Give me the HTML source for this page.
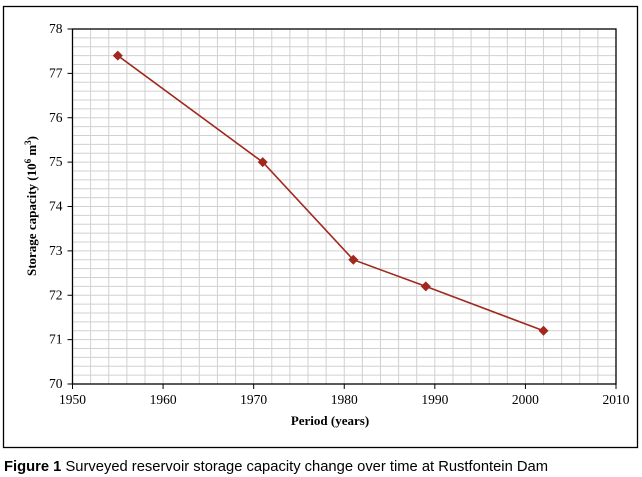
<!DOCTYPE html>
<html><head><meta charset="utf-8"><style>
body{margin:0;background:#fff;width:642px;height:477px;overflow:hidden}
svg{display:block}
</style></head><body>
<svg width="642" height="477">
<rect x="3.5" y="6.5" width="634" height="441" fill="none" stroke="#000" stroke-width="1.3"/>
<g id="grid"></g>
<g id="axes"></g>
<g id="series"></g>
<text x="330" y="425" text-anchor="middle" font-family="Liberation Serif, serif" font-weight="bold" font-size="13">Period (years)</text>
<text transform="translate(36,206) rotate(-90)" text-anchor="middle" font-family="Liberation Serif, serif" font-weight="bold" font-size="13">Storage capacity (10<tspan font-size="9" dy="-5">6</tspan><tspan dy="5"> m</tspan><tspan font-size="9" dy="-5">3</tspan><tspan dy="5">)</tspan></text>
<text x="4" y="471" font-family="Liberation Sans, sans-serif" font-size="15" textLength="544" lengthAdjust="spacingAndGlyphs"><tspan font-weight="bold">Figure 1</tspan> Surveyed reservoir storage capacity change over time at Rustfontein Dam</text>
</svg>
<script>
const years=[1955,1971,1981,1989,2002];
const capacity=[77.4,75.0,72.8,72.2,71.2];
const xTicks=[1950,1960,1970,1980,1990,2000,2010];
const yTicks=[70,71,72,73,74,75,76,77,78];
const X0=72.5,X1=616,Y0=384,Y1=29;
const xs=v=>X0+(v-1950)/60*(X1-X0);
const ys=v=>Y0-(v-70)/8*(Y0-Y1);
const NS='http://www.w3.org/2000/svg';
function mk(t,a,p){const e=document.createElementNS(NS,t);for(const k in a)e.setAttribute(k,a[k]);p.appendChild(e);return e;}
const g=document.getElementById('grid'),ax=document.getElementById('axes'),s=document.getElementById('series');
for(let y=1950;y<=2010;y+=2){const l=mk('line',{x1:xs(y),x2:xs(y),y1:Y1,y2:Y0,stroke:'#d0d0d0','stroke-width':1},g);

}
for(let i=0;i<=40;i++){const v=70+i*0.2;const l=mk('line',{x1:X0,x2:X1,y1:ys(v),y2:ys(v),stroke:'#d0d0d0','stroke-width':1},g);

}
const fr=mk('rect',{x:X0,y:Y1,width:X1-X0,height:Y0-Y1,fill:'none',stroke:'#000','stroke-width':1.3},ax);


xTicks.forEach(t=>{mk('line',{x1:xs(t),x2:xs(t),y1:Y0,y2:Y0+5,stroke:'#000'},ax);
const tx=mk('text',{x:xs(t),y:Y0+20,'text-anchor':'middle','font-family':'Liberation Serif, serif','font-size':13.5},ax);tx.textContent=t;

});
yTicks.forEach(t=>{mk('line',{x1:X0-5,x2:X0,y1:ys(t),y2:ys(t),stroke:'#000'},ax);
const tx=mk('text',{x:X0-10,y:ys(t)+4,'text-anchor':'end','font-family':'Liberation Serif, serif','font-size':13.5},ax);tx.textContent=t;

});
const pl=mk('polyline',{points:years.map((y,i)=>xs(y)+','+ys(capacity[i])).join(' '),fill:'none',stroke:'#a0281e','stroke-width':1.6},s);


years.forEach((y,i)=>{const cx=xs(y),cy=ys(capacity[i]);const m=mk('polygon',{points:`${cx},${cy-5} ${cx+5},${cy} ${cx},${cy+5} ${cx-5},${cy}`,fill:'#a0281e'},s);

});
</script>
</body></html>
